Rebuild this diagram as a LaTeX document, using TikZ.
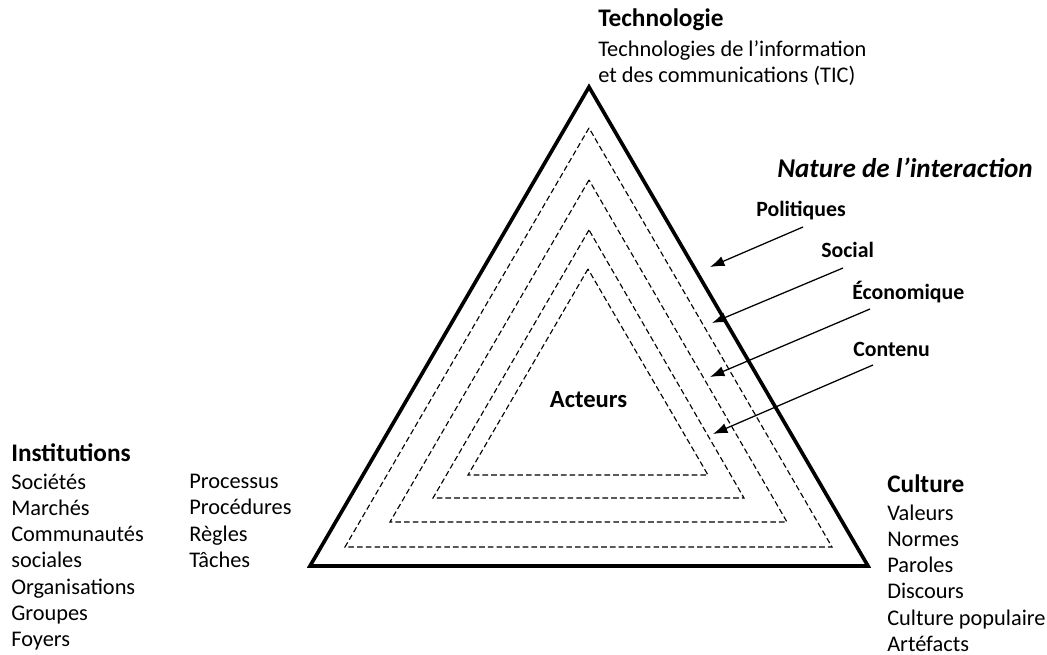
\documentclass[tikz,border=0pt]{standalone}
\usepackage{fontspec}
\setmainfont{Carlito}
\usetikzlibrary{arrows.meta}

\newcommand{\headfont}{\fontsize{18}{19}\selectfont\bfseries}

\begin{document}
\begin{tikzpicture}[x=0.025cm, y=-0.025cm, inner sep=0pt, >={Latex[length=3.6mm,width=2.6mm]},
  every node/.style={font=\fontsize{15.9}{18.7}\selectfont},
  block/.style={anchor=north west, align=left},
  layer/.style={anchor=base west, font=\fontsize{15.5}{19}\selectfont\bfseries},
  outer/.style={line width=2.6pt, line join=miter},
  inner/.style={line width=0.8pt, dash pattern=on 4pt off 2.2pt},
  pointer/.style={->, line width=0.9pt}]

\useasboundingbox (0,0) rectangle (1047,655);

% triangles
\coordinate (a0) at (589,87);  \coordinate (b0) at (310,566); \coordinate (c0) at (868,566);
\coordinate (a1) at (589,128); \coordinate (b1) at (345,547); \coordinate (c1) at (832,547);
\coordinate (a2) at (589,180); \coordinate (b2) at (390,522); \coordinate (c2) at (787,522);
\coordinate (a3) at (589,230); \coordinate (b3) at (433,498); \coordinate (c3) at (744,498);
\coordinate (a4) at (588,269); \coordinate (b4) at (468,475); \coordinate (c4) at (708,475);

\draw [outer] (a0) -- (b0) -- (c0) -- cycle;
\draw [inner] (a1) -- (b1) -- (c1) -- cycle;
\draw [inner] (a2) -- (b2) -- (c2) -- cycle;
\draw [inner] (a3) -- (b3) -- (c3) -- cycle;
\draw [inner] (a4) -- (b4) -- (c4) -- cycle;

\node [font=\fontsize{17.5}{20}\selectfont\bfseries, anchor=base] (act) at (588.5,408) {Acteurs};

% corners
\node [block] (tech) at (598,8.7) {{\headfont Technologie}\\[2.6pt]
  Technologies de l’information\\ et des communications (TIC)};
\node [block] (inst) at (11,443) {{\headfont Institutions}\\[1.2pt]
  Sociétés\\ Marchés\\ Communautés\\ sociales\\ Organisations\\ Groupes\\ Foyers};
\node [block] (proc) at (189,474) {Processus\\ Procédures\\ Règles\\ Tâches};
\node [block] (cult) at (887,474) {{\headfont Culture}\\[1.2pt]
  Valeurs\\ Normes\\ Paroles\\ Discours\\ Culture populaire\\ Artéfacts};

% interaction
\node [anchor=base west, font=\fontsize{19.3}{22}\selectfont\bfseries\itshape] (nat) at (777,178) {Nature de l’interaction};
\node [layer] (pol) at (756,217) {Politiques};
\node [layer] (soc) at (821,258) {Social};
\node [layer] (eco) at (852,300) {Économique};
\node [layer] (con) at (853,357) {Contenu};

\coordinate (pol1) at (803,227); \coordinate (pol2) at (710,267);
\coordinate (soc1) at (843,268); \coordinate (soc2) at (712,323);
\coordinate (eco1) at (870,309); \coordinate (eco2) at (710,377);
\coordinate (con1) at (873,365); \coordinate (con2) at (713,434);

\draw [pointer] (pol1) -- (pol2);
\draw [pointer] (soc1) -- (soc2);
\draw [pointer] (eco1) -- (eco2);
\draw [pointer] (con1) -- (con2);
\end{tikzpicture}
\end{document}
